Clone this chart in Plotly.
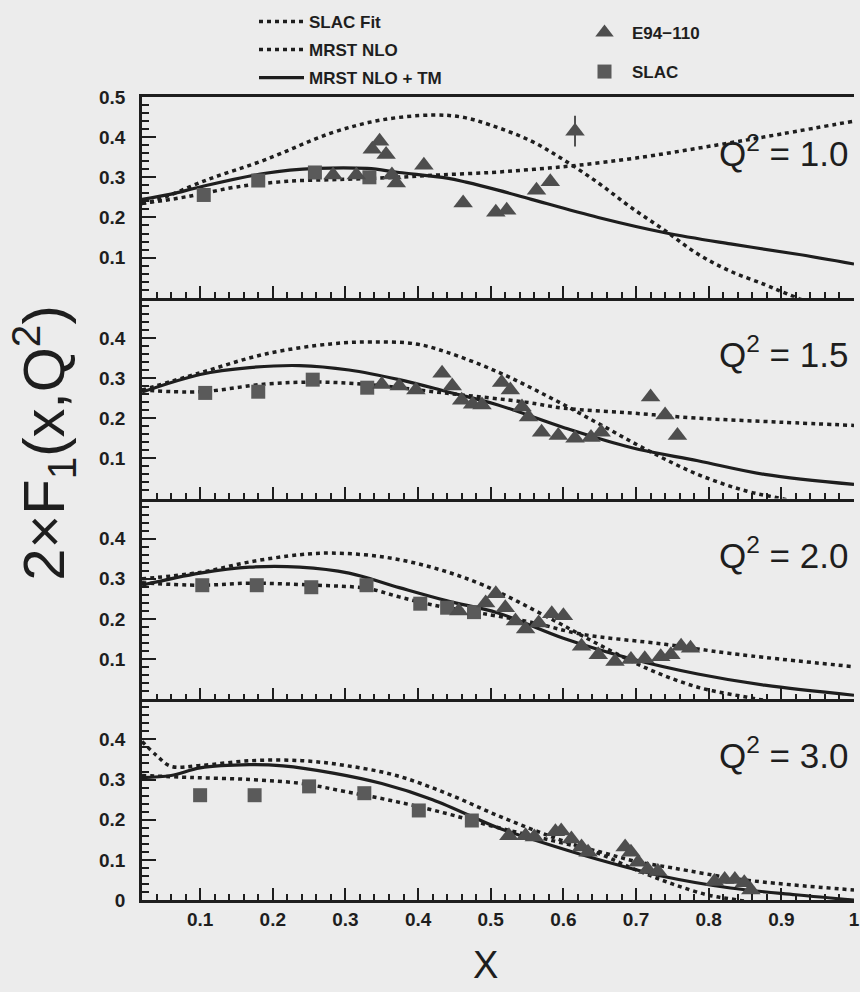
import plotly.graph_objects as go
from plotly.subplots import make_subplots

# ---------------- data ----------------
q2_labels = ["1.0", "1.5", "2.0", "3.0"]

# Panel 1 : Q^2 = 1.0
slac_fit_x_1 = [0.02, 0.06, 0.1, 0.15, 0.22, 0.3, 0.37, 0.43, 0.5, 0.56, 0.62, 0.7, 0.81, 0.9, 1.0]
slac_fit_y_1 = [0.235, 0.245, 0.258, 0.276, 0.29, 0.295, 0.3, 0.306, 0.312, 0.32, 0.33, 0.348, 0.38, 0.408, 0.44]
mrst_x_1 = [0.02, 0.04, 0.11, 0.19, 0.28, 0.35, 0.42, 0.46, 0.5, 0.556, 0.6, 0.648, 0.693, 0.74, 0.785, 0.83, 0.877, 0.91, 0.95]
mrst_y_1 = [0.235, 0.243, 0.294, 0.344, 0.41, 0.443, 0.455, 0.45, 0.43, 0.39, 0.344, 0.286, 0.225, 0.167, 0.109, 0.066, 0.033, 0.008, -0.02]
tm_x_1 = [0.02, 0.06, 0.1, 0.19, 0.26, 0.33, 0.374, 0.44, 0.466, 0.51, 0.556, 0.648, 0.74, 0.83, 0.92, 1.0]
tm_y_1 = [0.245, 0.258, 0.276, 0.31, 0.322, 0.322, 0.312, 0.298, 0.288, 0.268, 0.245, 0.2, 0.162, 0.134, 0.109, 0.084]
slac_x_1 = [0.105, 0.18, 0.258, 0.333]
slac_y_1 = [0.256, 0.292, 0.312, 0.30]
e94_x_1 = [0.283, 0.315, 0.337, 0.347, 0.356, 0.364, 0.37, 0.408, 0.462, 0.507, 0.522, 0.563, 0.582, 0.616]
e94_y_1 = [0.306, 0.306, 0.37, 0.39, 0.357, 0.306, 0.286, 0.33, 0.236, 0.213, 0.218, 0.268, 0.289, 0.415]
e94_err_1 = [0, 0, 0, 0, 0, 0, 0, 0, 0, 0, 0, 0, 0, 0.038]

# Panel 2 : Q^2 = 1.5
slac_fit_x_2 = [0.02, 0.1, 0.19, 0.26, 0.33, 0.44, 0.548, 0.6, 0.693, 0.785, 0.9, 1.0]
slac_fit_y_2 = [0.27, 0.266, 0.285, 0.29, 0.284, 0.262, 0.24, 0.225, 0.213, 0.2, 0.19, 0.182]
mrst_x_2 = [0.02, 0.1, 0.19, 0.28, 0.337, 0.397, 0.44, 0.51, 0.58, 0.648, 0.716, 0.785, 0.853, 0.9, 0.95]
mrst_y_2 = [0.27, 0.313, 0.36, 0.385, 0.39, 0.385, 0.364, 0.315, 0.253, 0.187, 0.12, 0.06, 0.018, 0.0, -0.02]
tm_x_2 = [0.02, 0.1, 0.168, 0.237, 0.305, 0.374, 0.44, 0.51, 0.6, 0.693, 0.785, 0.877, 1.0]
tm_y_2 = [0.265, 0.309, 0.326, 0.331, 0.32, 0.296, 0.266, 0.233, 0.177, 0.127, 0.094, 0.06, 0.035]
slac_x_2 = [0.107, 0.18, 0.255, 0.33]
slac_y_2 = [0.263, 0.266, 0.296, 0.276]
e94_x_2 = [0.35, 0.374, 0.397, 0.433, 0.447, 0.46, 0.475, 0.488, 0.515, 0.527, 0.543, 0.552, 0.57, 0.593, 0.616, 0.638, 0.652, 0.72, 0.74, 0.757]
e94_y_2 = [0.284, 0.28, 0.27, 0.312, 0.28, 0.245, 0.235, 0.233, 0.289, 0.27, 0.228, 0.203, 0.165, 0.157, 0.15, 0.152, 0.165, 0.253, 0.208, 0.157]

# Panel 3 : Q^2 = 2.0
slac_fit_x_3 = [0.02, 0.1, 0.168, 0.26, 0.33, 0.374, 0.42, 0.5, 0.56, 0.625, 0.74, 0.83, 1.0]
slac_fit_y_3 = [0.29, 0.284, 0.289, 0.284, 0.276, 0.255, 0.235, 0.21, 0.19, 0.162, 0.137, 0.114, 0.081]
mrst_x_3 = [0.02, 0.1, 0.168, 0.237, 0.28, 0.35, 0.42, 0.49, 0.58, 0.648, 0.716, 0.785, 0.853, 0.9]
mrst_y_3 = [0.3, 0.316, 0.342, 0.36, 0.364, 0.355, 0.328, 0.284, 0.203, 0.137, 0.076, 0.03, 0.005, -0.01]
tm_x_3 = [0.02, 0.1, 0.168, 0.237, 0.305, 0.374, 0.44, 0.51, 0.6, 0.693, 0.785, 0.877, 1.0]
tm_y_3 = [0.284, 0.314, 0.329, 0.329, 0.314, 0.278, 0.245, 0.215, 0.152, 0.101, 0.063, 0.035, 0.01]
slac_x_3 = [0.103, 0.178, 0.253, 0.329, 0.403, 0.44, 0.477]
slac_y_3 = [0.284, 0.284, 0.279, 0.284, 0.238, 0.228, 0.217]
e94_x_3 = [0.456, 0.493, 0.507, 0.52, 0.534, 0.548, 0.566, 0.584, 0.6, 0.625, 0.648, 0.671, 0.693, 0.712, 0.734, 0.748, 0.762, 0.775]
e94_y_3 = [0.22, 0.24, 0.263, 0.228, 0.195, 0.175, 0.19, 0.213, 0.208, 0.132, 0.111, 0.094, 0.099, 0.101, 0.106, 0.111, 0.132, 0.127]

# Panel 4 : Q^2 = 3.0
slac_fit_x_4 = [0.02, 0.09, 0.17, 0.24, 0.3, 0.37, 0.44, 0.5, 0.58, 0.65, 0.7, 0.75, 0.85, 1.0]
slac_fit_y_4 = [0.31, 0.305, 0.3, 0.29, 0.27, 0.245, 0.215, 0.185, 0.15, 0.12, 0.096, 0.08, 0.05, 0.025]
mrst_x_4 = [0.02, 0.04, 0.06, 0.1, 0.17, 0.24, 0.3, 0.37, 0.44, 0.51, 0.58, 0.65, 0.7, 0.75, 0.8, 0.84, 0.9]
mrst_y_4 = [0.395, 0.36, 0.333, 0.335, 0.347, 0.347, 0.335, 0.31, 0.265, 0.21, 0.16, 0.115, 0.075, 0.04, 0.012, 0.0, -0.02]
tm_x_4 = [0.02, 0.06, 0.1, 0.168, 0.214, 0.283, 0.35, 0.42, 0.51, 0.556, 0.648, 0.74, 0.83, 0.92, 1.0]
tm_y_4 = [0.305, 0.31, 0.329, 0.337, 0.334, 0.316, 0.29, 0.25, 0.18, 0.152, 0.101, 0.058, 0.03, 0.013, 0.0]
slac_x_4 = [0.1, 0.175, 0.25, 0.326, 0.401, 0.474]
slac_y_4 = [0.261, 0.261, 0.283, 0.266, 0.223, 0.198]
e94_x_4 = [0.525, 0.548, 0.56, 0.589, 0.597, 0.611, 0.625, 0.634, 0.685, 0.693, 0.703, 0.716, 0.73, 0.808, 0.822, 0.836, 0.849, 0.858]
e94_y_4 = [0.16, 0.16, 0.157, 0.17, 0.172, 0.152, 0.132, 0.119, 0.132, 0.119, 0.094, 0.076, 0.071, 0.046, 0.051, 0.051, 0.043, 0.025]

x_tick_vals = [0.1, 0.2, 0.3, 0.4, 0.5, 0.6, 0.7, 0.8, 0.9, 1.0]
x_tick_text = ["0.1", "0.2", "0.3", "0.4", "0.5", "0.6", "0.7", "0.8", "0.9", "1"]
y_tick_vals = [[0.1, 0.2, 0.3, 0.4, 0.5], [0.1, 0.2, 0.3, 0.4], [0.1, 0.2, 0.3, 0.4], [0.0, 0.1, 0.2, 0.3, 0.4]]
y_tick_text = [["0.1", "0.2", "0.3", "0.4", "0.5"], ["0.1", "0.2", "0.3", "0.4"], ["0.1", "0.2", "0.3", "0.4"], ["0", "0.1", "0.2", "0.3", "0.4"]]

panels = [
    (slac_fit_x_1, slac_fit_y_1, mrst_x_1, mrst_y_1, tm_x_1, tm_y_1, slac_x_1, slac_y_1, e94_x_1, e94_y_1, e94_err_1),
    (slac_fit_x_2, slac_fit_y_2, mrst_x_2, mrst_y_2, tm_x_2, tm_y_2, slac_x_2, slac_y_2, e94_x_2, e94_y_2, None),
    (slac_fit_x_3, slac_fit_y_3, mrst_x_3, mrst_y_3, tm_x_3, tm_y_3, slac_x_3, slac_y_3, e94_x_3, e94_y_3, None),
    (slac_fit_x_4, slac_fit_y_4, mrst_x_4, mrst_y_4, tm_x_4, tm_y_4, slac_x_4, slac_y_4, e94_x_4, e94_y_4, None),
]

# ---------------- styling ----------------
INK = "#1e1e1e"
BG = "#ececec"
TRI = "#4e4e4e"
SQ = "#5a5a5a"
TICKFONT = dict(family="Liberation Sans Narrow, Arial Narrow, Liberation Sans", size=19, color=INK, weight="bold")
LEGFONT = dict(family="Liberation Sans Narrow, Arial Narrow, Liberation Sans", size=17, color=INK, weight="bold")
DOT = "4px,4px"

fig = make_subplots(rows=4, cols=1, shared_xaxes=True, vertical_spacing=0)

for i, (sfx, sfy, mx, my, tx, ty, sx, sy, ex, ey, eerr) in enumerate(panels):
    r = i + 1
    first = (i == 0)
    fig.add_trace(go.Scatter(x=sfx, y=sfy, mode="lines", name="SLAC Fit", line=dict(color=INK, width=3.5, dash=DOT, shape="spline"),
                             showlegend=first, legend="legend"), row=r, col=1)
    fig.add_trace(go.Scatter(x=mx, y=my, mode="lines", name="MRST NLO", line=dict(color=INK, width=3.5, dash=DOT, shape="spline"),
                             showlegend=first, legend="legend2"), row=r, col=1)
    fig.add_trace(go.Scatter(x=tx, y=ty, mode="lines", name="MRST NLO + TM", line=dict(color=INK, width=3.2, shape="spline"),
                             showlegend=first, legend="legend3"), row=r, col=1)
    fig.add_trace(go.Scatter(x=sx, y=sy, mode="markers", name="SLAC", marker=dict(symbol="square", size=14, color=SQ),
                             showlegend=first, legend="legend5", cliponaxis=False), row=r, col=1)
    tri = dict(x=ex, y=ey, mode="markers", name="E94\u2212110", marker=dict(symbol="triangle-up", size=17, color=TRI),
               showlegend=first, legend="legend4")
    if eerr is not None:
        tri["error_y"] = dict(type="data", array=eerr, color=INK, thickness=1.5, width=0)
    fig.add_trace(go.Scatter(**tri), row=r, col=1)

for i in range(4):
    r = i + 1
    xa = dict(range=[0.02, 1.0], showline=True, linecolor=INK, linewidth=2.5, ticks="inside", ticklen=12, tickwidth=2,
              tickcolor=INK, tickvals=x_tick_vals, ticktext=x_tick_text, showgrid=False, zeroline=False,
              minor=dict(dtick=0.02, tick0=0, ticks="inside", ticklen=6, tickwidth=1.5, tickcolor=INK, showgrid=False),
              showticklabels=(r == 4), tickfont=TICKFONT, ticklabeloverflow="allow")
    if r == 1:
        xa["mirror"] = True
    fig.update_xaxes(**xa, row=r, col=1)
    fig.update_yaxes(range=[0, 0.5], showline=True, linecolor=INK, linewidth=2.5, ticks="inside", ticklen=14, tickwidth=2,
                     tickcolor=INK, tickvals=y_tick_vals[i], ticktext=y_tick_text[i], showgrid=False, zeroline=False,
                     minor=dict(dtick=0.02, tick0=0, ticks="inside", ticklen=7, tickwidth=1.5, tickcolor=INK, showgrid=False),
                     tickfont=TICKFONT, ticklabelstandoff=10, row=r, col=1)
    fig.add_annotation(x=0.995, y=0.365, xref=f"x{'' if r == 1 else r}", yref=f"y{'' if r == 1 else r}",
                       text=f"Q<sup>2</sup> = {q2_labels[i]}", showarrow=False, xanchor="right", yanchor="middle",
                       font=dict(family="Liberation Sans, Arial", size=35, color=INK))

# axis titles
fig.add_annotation(x=-0.138, y=0.569, xref="paper", yref="paper", text="2\u00d7F<sub>1</sub>(x,Q<sup>2</sup>)", textangle=-90,
                   xanchor="center", yanchor="middle",
                   showarrow=False, font=dict(family="Liberation Sans, Arial", size=58, color=INK))
fig.add_annotation(x=0.482, y=-0.081, xref="paper", yref="paper", text="X", showarrow=False,
                   xanchor="center", yanchor="middle",
                   font=dict(family="Liberation Sans, Arial", size=38, color=INK))

leg_common = dict(xref="container", yref="container", xanchor="left", yanchor="middle", bgcolor="rgba(0,0,0,0)",
                  font=LEGFONT, itemwidth=45, borderwidth=0)
W, H = 860, 992
fig.update_layout(
    legend=dict(x=254 / W, y=1 - 22 / H, **leg_common),
    legend2=dict(x=254 / W, y=1 - 50 / H, **leg_common),
    legend3=dict(x=254 / W, y=1 - 78 / H, **leg_common),
    legend4=dict(x=577 / W, y=1 - 33 / H, **leg_common),
    legend5=dict(x=577 / W, y=1 - 72 / H, **leg_common),
)

fig.update_layout(width=W, height=H, margin=dict(l=142, r=6, t=97, b=92, autoexpand=False), paper_bgcolor=BG, plot_bgcolor=BG,
                  font=dict(family="Liberation Sans, Arial", color=INK))

fig.write_html("out.html")
